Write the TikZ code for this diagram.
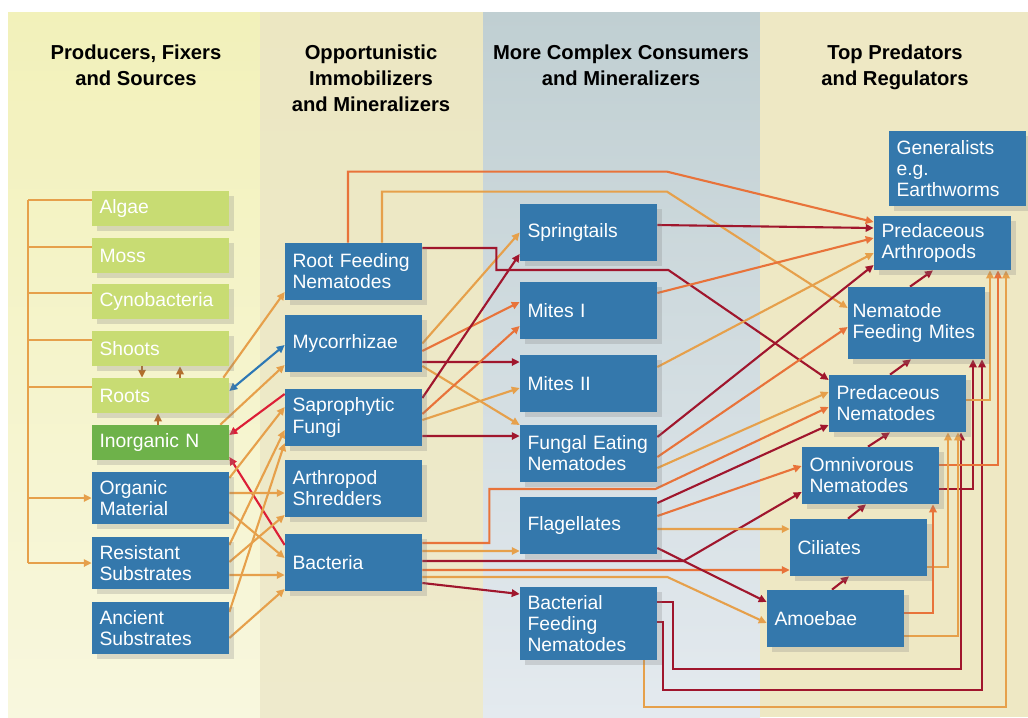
\documentclass[tikz,border=0pt]{standalone}
\usepackage{fontspec}
\setmainfont{Liberation Sans}
\usetikzlibrary{arrows.meta}
\usetikzlibrary{shadows}
\pgfdeclarelayer{bg}
\pgfdeclarelayer{edges}
\pgfsetlayers{bg,edges,main}
\definecolor{boxblue}{RGB}{52,120,172}
\definecolor{boxgreen}{RGB}{200,220,115}
\definecolor{boxdkgreen}{RGB}{110,178,74}
\definecolor{linelor}{RGB}{230,160,75}
\definecolor{lineora}{RGB}{232,115,58}
\definecolor{linedred}{RGB}{160,22,45}
\definecolor{linelred}{RGB}{220,30,55}
\definecolor{lineblu}{RGB}{45,120,181}
\definecolor{linebrn}{RGB}{178,110,45}

\begin{document}
\begin{tikzpicture}[
  x=0.02cm, y=-0.02cm,
  >={Triangle[length=4.5pt,width=4.2pt]},
     box/.style = {fill=boxblue, text=white, text width=2.44cm,
                   inner xsep=0.15cm, inner ysep=0pt, align=left,
                   font=\fontsize{11}{12}\selectfont,
                   drop shadow={opacity=0.25, shadow xshift=3pt,
                                shadow yshift=-3pt}},
    gbox/.style = {box, fill=boxgreen, minimum height=0.7cm},
    sbox/.style = {box, minimum height=1.04cm},
    bbox/.style = {box, minimum height=1.14cm},
    head/.style = {font=\fontsize{11.5}{14.7}\selectfont\bfseries,
                   align=center, anchor=north},
    link/.style = {line width=1.2pt},
     lor/.style = {link, draw=linelor},
     ora/.style = {link, draw=lineora},
    dred/.style = {link, draw=linedred},
    lred/.style = {link, draw=linelred},
     blu/.style = {link, draw=lineblu},
     brn/.style = {link, draw=linebrn}
                   ]
\useasboundingbox (0,0) rectangle (1028,717);

% columns
\begin{pgfonlayer}{bg}
\fill[white] (0,0) rectangle (1028,717);
\shade[top color={rgb,255:red,242;green,241;blue,186},
       bottom color={rgb,255:red,248;green,247;blue,222}] (8,12) rectangle (260,717);
\shade[top color={rgb,255:red,236;green,231;blue,194},
       bottom color={rgb,255:red,238;green,234;blue,204}] (260,12) rectangle (483,717);
\shade[top color={rgb,255:red,192;green,207;blue,210},
       bottom color={rgb,255:red,228;green,234;blue,239}] (483,12) rectangle (760,717);
\fill[fill={rgb,255:red,238;green,232;blue,196}] (760,12) rectangle (1028,717);
\end{pgfonlayer}

\node[head] (h1) at (136,39) {Producers, Fixers\\and Sources};
\node[head] (h2) at (371,39) {Opportunistic\\Immobilizers\\and Mineralizers};
\node[head] (h3) at (621,39) {More Complex Consumers\\and Mineralizers};
\node[head] (h4) at (895,39) {Top Predators\\and Regulators};

% producers, fixers and sources
\foreach \n/\t/\y in {algae/Algae/208.5, moss/Moss/255.5,
    cyno/Cynobacteria/301.5, shoots/Shoots/348.5, roots/Roots/395.5}
    \node[gbox] (\n) at (160.5,\y) {\t};
\node[gbox,fill=boxdkgreen] (inorgn) at (160.5,442.5) {Inorganic N};
\node[sbox] (orgmat)  at (160.5,498) {Organic\\Material};
\node[sbox] (resist)  at (160.5,563) {Resistant\\Substrates};
\node[sbox] (ancient) at (160.5,628) {Ancient\\Substrates};

% opportunistic immobilizers
\node[bbox] (rootfeed) at (353.5,271.5) {Root Feeding\\Nematodes};
\node[bbox] (mycorr)   at (353.5,343.5) {Mycorrhizae};
\node[bbox] (sapro)    at (353.5,417.5) {Saprophytic\\Fungi};
\node[bbox] (shred)    at (353.5,488)   {Arthropod\\Shredders};
\node[bbox] (bact)     at (353.5,562.5) {Bacteria};

% more complex consumers
\node[bbox] (spring)  at (588.5,232.5) {Springtails};
\node[bbox] (mitesi)  at (588.5,310.5) {Mites I};
\node[bbox] (mitesii) at (588.5,383.5) {Mites II};
\node[bbox] (fungnem) at (588.5,453.5) {Fungal Eating\\Nematodes};
\node[bbox] (flag)    at (588.5,525.5) {Flagellates};
\node[box,minimum height=1.46cm] (bactnem) at (588.5,623.5)
    {Bacterial\\Feeding\\Nematodes};

% top predators
\node[box,minimum height=1.5cm]  (general)  at (957.5,168.5)
    {Generalists\\e.g.\\Earthworms};
\node[box,minimum height=1.08cm] (predarth) at (942.5,243) {Predaceous\\Arthropods};
\node[box,minimum height=1.44cm,text width=2.56cm,inner xsep=0.09cm]
    (nemmites) at (916.5,323) {Nematode\\Feeding Mites};
\node[bbox] (prednem) at (897.5,403.5) {Predaceous\\Nematodes};
\node[bbox] (omninem) at (870.5,475.5) {Omnivorous\\Nematodes};
\node[bbox] (cil)     at (858.5,547.5) {Ciliates};
\node[bbox] (amoeb)   at (835.5,618.5) {Amoebae};

\begin{pgfonlayer}{edges}
% bracket on the left
\coordinate (spine) at ([xshift=-1.28cm,yshift=0.17cm]algae.west);
\draw[lor] (spine) -- (spine |- resist.west);
\foreach \n in {algae,moss,cyno,shoots,roots}
    \draw[lor] ([yshift=0.17cm]\n.west) -- ++(-64,0);
\draw[lor,->] (spine |- orgmat.west) -- (orgmat.west);
\draw[lor,->] (spine |- resist.west) -- (resist.west);

\draw[brn,->] ([xshift=-0.37cm]shoots.south) -- ([xshift=-0.37cm]roots.north);
\draw[brn,->] ([xshift=0.39cm]roots.north) -- ([xshift=0.39cm]shoots.south);
\draw[brn,->] ([xshift=-0.05cm]inorgn.north) -- ([xshift=-0.05cm]roots.south);

\draw[blu,<->] ([yshift=0.09cm]roots.east) -- ([yshift=-0.03cm]mycorr.west);
\draw[lred,->] ([yshift=0.47cm]sapro.west) -- ([yshift=0.15cm]inorgn.east);
\draw[lred,->] ([yshift=0.35cm]bact.west) -- ([yshift=-0.29cm]inorgn.east);
\draw[lor,->] ([xshift=-0.12cm]roots.north east) -- ([yshift=-0.41cm]rootfeed.west);
\draw[lor,->] ([xshift=-0.18cm]inorgn.north east) -- ([yshift=-0.43cm]mycorr.west);

\foreach \a/\sa/\b/\sb in {orgmat/0.4/sapro/0.21, resist/0.36/sapro/-0.25,
    ancient/0.32/sapro/-0.51, orgmat/0.1/shred/-0.1, resist/0.02/shred/-0.54,
    orgmat/-0.28/bact/0.09, resist/-0.24/bact/-0.25, ancient/-0.2/bact/-0.53}
    \draw[lor,->] ([yshift=\sa cm]\a.east) -- ([yshift=\sb cm]\b.west);

% second column to third and fourth
\foreach \c/\a/\sa/\b/\sb in {lor/mycorr/0/spring/0, ora/mycorr/-0.15/mitesi/0.17,
    dred/mycorr/-0.37/mitesii/0.43, lor/mycorr/-0.45/fungnem/0.57,
    dred/sapro/0.39/spring/-0.43, ora/sapro/0.07/mitesi/-0.31,
    lor/sapro/-0.05/mitesii/-0.09, dred/sapro/-0.37/fungnem/0.35,
    lor/bact/0.23/flag/-0.51, ora/bact/-0.15/cil/-0.45,
    dred/bact/-0.41/bactnem/0.59}
    \draw[\c,->] ([yshift=\sa cm]\a.east) -- ([yshift=\sb cm]\b.west);

\draw[ora,->] ([xshift=-0.11cm]rootfeed.north) -- ++(0,-71) -- ++(319,0)
    -- ([yshift=0.42cm]predarth.west);
\draw[lor,->] ([xshift=0.57cm]rootfeed.north) -- ++(0,-51) -- ++(285,0)
    -- ([yshift=0.3cm]nemmites.west);
\draw[dred,->] ([yshift=0.47cm]rootfeed.east) -- ++(74,0) -- ++(0,22)
    -- ++(172,0) -- ([yshift=0.47cm]prednem.west);
\draw[ora,->] ([yshift=0.39cm]bact.east) -- ++(67,0) -- ++(0,-54)
    -- ++(166,0) -- ([yshift=-0.07cm]prednem.west);
\draw[dred,->] ([yshift=0.03cm]bact.east) -- ++(261,0)
    -- ([yshift=-0.33cm]omninem.west);
\draw[lor,->] ([yshift=-0.29cm]bact.east) -- ++(245,0)
    -- ([yshift=-0.09cm]amoeb.west);

% third column to fourth
\foreach \c/\a/\sa/\b/\sb in {dred/spring/0.15/predarth/0.3,
    ora/mitesi/0.35/predarth/0.1, lor/mitesii/0.33/predarth/-0.2,
    dred/fungnem/0.33/predarth/-0.44, ora/fungnem/-0.07/nemmites/-0.08,
    lor/fungnem/-0.29/prednem/0.23, dred/flag/0.45/prednem/-0.43,
    ora/flag/0.19/omninem/0.19, lor/flag/-0.07/cil/0.37,
    dred/flag/-0.45/amoeb/0.33}
    \draw[\c,->] ([yshift=\sa cm]\a.east) -- ([yshift=\sb cm]\b.west);

\draw[dred,->] ([yshift=0.43cm]bactnem.east) -- ++(16,0) -- ++(0,67)
    -| ([xshift=1.27cm]prednem.south);
\draw[dred,->] ([yshift=0.03cm]bactnem.east) -- ++(6,0) -- ++(0,68)
    -| ([xshift=1.31cm]nemmites.south);
\draw[lor,->] ([xshift=1.11cm]bactnem.south) -- ++(0,47)
    -| ([xshift=1.27cm]predarth.south);

% within the top predators
\draw[dred,->] ([xshift=-0.07cm]amoeb.north) -- ([xshift=-0.19cm]cil.south);
\draw[dred,->] ([xshift=-0.21cm]cil.north) -- ([xshift=-0.09cm]omninem.south);
\draw[dred,->] ([xshift=-0.05cm]omninem.north) -- ([xshift=-0.15cm]prednem.south);
\draw[dred,->] ([xshift=-0.15cm]prednem.north) -- ([xshift=-0.11cm]nemmites.south);
\draw[dred,->] ([xshift=-0.13cm]nemmites.north) -- ([xshift=-0.19cm]predarth.south);

\draw[dred,->] ([yshift=-0.27cm]omninem.east) -| ([xshift=1.13cm]nemmites.south);
\draw[ora,->] ([yshift=0.21cm]omninem.east) -| ([xshift=1.11cm]predarth.south);
\draw[lor,->] ([yshift=0.07cm]prednem.east) -| ([xshift=0.95cm]predarth.south);
\draw[lor,->] ([yshift=-0.39cm]cil.east) -| ([xshift=1.01cm]prednem.south);
\draw[lor,->] ([yshift=-0.35cm]amoeb.east) -| ([xshift=1.21cm]prednem.south);
\draw[ora,->] ([yshift=0.11cm]amoeb.east) -| ([xshift=1.25cm]omninem.south);
\end{pgfonlayer}
\end{tikzpicture}
\end{document}
